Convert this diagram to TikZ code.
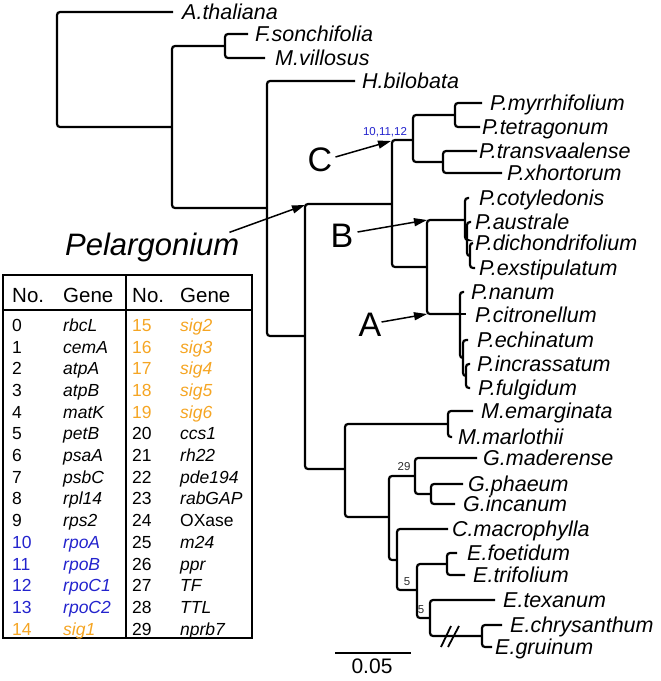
\documentclass[tikz,border=0pt]{standalone}
\usepackage{fontspec}
\setmainfont{Liberation Sans}
\usetikzlibrary{arrows.meta}
\definecolor{geneblue}{RGB}{35,35,205}
\definecolor{geneorange}{RGB}{245,165,35}
\definecolor{lbl}{RGB}{45,45,45}
\newcommand\cladeline[3]{\draw[br] (#2) -| (#1) |- (#3);}
\begin{document}
\begin{tikzpicture}[x=1pt,y=-1pt,
 br/.style={line width=2.2pt, rounded corners=3pt},
 sp/.style={anchor=base west, inner sep=0pt, yshift=-7.6pt, font=\fontsize{21.5}{24}\selectfont\itshape},
 tb/.style={anchor=base west, inner sep=0pt, yshift=-6.3pt, font=\fontsize{17.5}{20}\selectfont},
 tbg/.style={tb, font=\fontsize{17.5}{20}\selectfont\itshape},
 th/.style={anchor=base west, inner sep=0pt, yshift=-7.3pt, font=\fontsize{20.5}{24}\selectfont},
 big/.style={inner sep=0pt, font=\fontsize{34}{38}\selectfont},
 arr/.style={line width=1.5pt, -{Triangle[length=13pt,width=8pt]}},
 small/.style={inner sep=0pt, font=\fontsize{11.5}{13}\selectfont},
 tline/.style={line width=1.5pt},
]
\useasboundingbox (0,0) rectangle (661,681);

% ---------- internal nodes ----------
\coordinate (R)    at (57,70);
\coordinate (N1)   at (172,127);
\coordinate (Fc)   at (225,46);
\coordinate (N2)   at (267,208);
\coordinate (Npel) at (305,336);
\coordinate (N3)   at (392,204);
\coordinate (Cc)   at (413,140);
\coordinate (Cm)   at (455,115);
\coordinate (Ct)   at (443,162);
\coordinate (Nab)  at (427,267);
\coordinate (Bc)   at (465,220);
\coordinate (Bs1)  at (467,240);
\coordinate (Bs2)  at (470,256);
\coordinate (Ac)   at (460,314);
\coordinate (As1)  at (463,358);
\coordinate (As2)  at (466,376);
\coordinate (Nge)  at (345,469);
\coordinate (Mc)   at (448,424);
\coordinate (Ng2)  at (389,517);
\coordinate (Gc)   at (415,476);
\coordinate (Gpi)  at (431,494);
\coordinate (CE)   at (397,560);
\coordinate (Ec)   at (417,590);
\coordinate (Ef)   at (447,564);
\coordinate (Ex)   at (430,618);
\coordinate (Ecg)  at (482,636);

% ---------- leaf line ends ----------
\coordinate (tAth) at (173,12);
\coordinate (tFso) at (248,34);
\coordinate (tMvi) at (265,58);
\coordinate (tHbi) at (355,81);
\coordinate (tMyr) at (482,103);
\coordinate (tTet) at (480,127);
\coordinate (tTra) at (477,151);
\coordinate (tXho) at (502,173);
\coordinate (tCot) at (469,198);
\coordinate (tAus) at (471,222);
\coordinate (tDic) at (473,243);
\coordinate (tExs) at (475,268);
\coordinate (tNan) at (464,292);
\coordinate (tCit) at (466,314);
\coordinate (tEch) at (468,340);
\coordinate (tInc) at (470,364);
\coordinate (tFul) at (470,388);
\coordinate (tEma) at (473,411);
\coordinate (tMar) at (452,437);
\coordinate (tMad) at (477,458);
\coordinate (tPha) at (463,484);
\coordinate (tIna) at (455,504);
\coordinate (tCma) at (448,529);
\coordinate (tFoe) at (457,553);
\coordinate (tTri) at (465,575);
\coordinate (tTex) at (495,600);
\coordinate (tChr) at (502,625);
\coordinate (tGru) at (492,647);

% ---------- branches ----------
\cladeline{R}{tAth}{N1}
\cladeline{N1}{Fc}{N2}
\cladeline{Fc}{tFso}{tMvi}
\cladeline{N2}{tHbi}{Npel}
\cladeline{Npel}{N3}{Nge}
\cladeline{N3}{Cc}{Nab}
\cladeline{Cc}{Cm}{Ct}
\cladeline{Cm}{tMyr}{tTet}
\cladeline{Ct}{tTra}{tXho}
\cladeline{Nab}{Bc}{Ac}
\cladeline{Bc}{tCot}{Bs1}
\cladeline{Bs1}{tAus}{Bs2}
\cladeline{Bs2}{tDic}{tExs}
\cladeline{Ac}{tNan}{As1}
\draw[br] (Ac) -- (tCit);
\cladeline{As1}{tEch}{As2}
\cladeline{As2}{tInc}{tFul}
\cladeline{Nge}{Mc}{Ng2}
\cladeline{Mc}{tEma}{tMar}
\cladeline{Ng2}{Gc}{CE}
\cladeline{Gc}{tMad}{Gpi}
\cladeline{Gpi}{tPha}{tIna}
\cladeline{CE}{tCma}{Ec}
\cladeline{Ec}{Ef}{Ex}
\cladeline{Ef}{tFoe}{tTri}
\cladeline{Ex}{tTex}{Ecg}
\cladeline{Ecg}{tChr}{tGru}

% break marks
\draw[line width=1.8pt] (441,647) -- (451,626);
\draw[line width=1.8pt] (448,647) -- (459,626);

% ---------- species labels ----------
\node[sp] (Ath) at (182,12) {A.thaliana};
\node[sp] (Fso) at (255,34) {F.sonchifolia};
\node[sp] (Mvi) at (275,58) {M.villosus};
\node[sp] (Hbi) at (362,81) {H.bilobata};
\node[sp] (Myr) at (490,103) {P.myrrhifolium};
\node[sp] (Tet) at (482,127) {P.tetragonum};
\node[sp] (Tra) at (479,151) {P.transvaalense};
\node[sp] (Xho) at (507,173) {P.xhortorum};
\node[sp] (Cot) at (479,198) {P.cotyledonis};
\node[sp] (Aus) at (475,222) {P.australe};
\node[sp] (Dic) at (475,243) {P.dichondrifolium};
\node[sp] (Exs) at (479,268) {P.exstipulatum};
\node[sp] (Nan) at (471,292) {P.nanum};
\node[sp] (Cit) at (475,315) {P.citronellum};
\node[sp] (Ech) at (477,340) {P.echinatum};
\node[sp] (Inc) at (477,364) {P.incrassatum};
\node[sp] (Ful) at (478,388) {P.fulgidum};
\node[sp] (Ema) at (481,411) {M.emarginata};
\node[sp] (Mar) at (458,437) {M.marlothii};
\node[sp] (Mad) at (483,458) {G.maderense};
\node[sp] (Pha) at (468,484) {G.phaeum};
\node[sp] (Ina) at (463,504) {G.incanum};
\node[sp] (Cma) at (452,529) {C.macrophylla};
\node[sp] (Foe) at (467,553) {E.foetidum};
\node[sp] (Tri) at (473,575) {E.trifolium};
\node[sp] (Tex) at (503,600) {E.texanum};
\node[sp] (Chr) at (510,625) {E.chrysanthum};
\node[sp] (Gru) at (495,647) {E.gruinum};

% ---------- small labels ----------
\node[small, text=geneblue] (lab101112) at (385,132) {10,11,12};
\node[small, text=lbl] (lab29) at (404,467) {29};
\node[small, text=lbl] (lab5a) at (407,582) {5};
\node[small, text=lbl] (lab5b) at (421,610) {5};

% ---------- clade labels and arrows ----------
\coordinate (tgPel) at (305,205);
\coordinate (tgC) at (391,141);
\coordinate (tgB) at (427,220);
\coordinate (tgA) at (427,314);
\node[anchor=base west, inner sep=0pt, font=\fontsize{31}{34}\selectfont\itshape] (pel) at (65,255) {Pelargonium};
\node[big] (labC) at (320,160) {C};
\node[big] (labB) at (342,236) {B};
\node[big] (labA) at (370,325) {A};
\draw[arr] ([xshift=-10pt]pel.north east) -- (tgPel);
\draw[arr] ([shift={(3,-3)}]labC.east) -- (tgC);
\draw[arr] ([shift={(4,-4)}]labB.east) -- (tgB);
\draw[arr] ([shift={(0,-3)}]labA.east) -- (tgA);

% ---------- scale bar ----------
\coordinate (sb1) at (335,653);
\coordinate (sb2) at (411,653);
\draw[line width=2pt] (sb1) -- (sb2);
\node[inner sep=0pt, font=\fontsize{21}{24}\selectfont] (sbl) at (372,666) {0.05};

% ---------- table ----------
\draw[tline] (3,275) rectangle (252,638);
\draw[tline] (126,275) -- (126,638);
\draw[tline] (3,310) -- (252,310);
\node[th] (hN1) at (12,295) {No.};
\node[th] (hG1) at (63,295) {Gene};
\node[th] (hN2) at (132,295) {No.};
\node[th] (hG2) at (180,295) {Gene};
\foreach \n/\g/\c [count=\r from 0] in {0/rbcL/black,1/cemA/black,2/atpA/black,3/atpB/black,4/matK/black,5/petB/black,6/psaA/black,7/psbC/black,8/rpl14/black,9/rps2/black,10/rpoA/geneblue,11/rpoB/geneblue,12/rpoC1/geneblue,13/rpoC2/geneblue,14/sig1/geneorange}{
  \pgfmathsetmacro\yy{325+21.7*\r}
  \node[tb, text=\c] (ln\n) at (12,\yy) {\n};
  \node[tbg, text=\c] (lg\n) at (63,\yy) {\g};
}
\foreach \n/\g/\c [count=\r from 0] in {15/sig2/geneorange,16/sig3/geneorange,17/sig4/geneorange,18/sig5/geneorange,19/sig6/geneorange,20/ccs1/black,21/rh22/black,22/pde194/black,23/rabGAP/black,24/{\upshape OXase}/black,25/m24/black,26/ppr/black,27/TF/black,28/TTL/black,29/nprb7/black}{
  \pgfmathsetmacro\yy{325+21.7*\r}
  \node[tb, text=\c] (rn\n) at (132,\yy) {\n};
  \node[tbg, text=\c] (rg\n) at (180,\yy) {\g};
}
\end{tikzpicture}
\end{document}
